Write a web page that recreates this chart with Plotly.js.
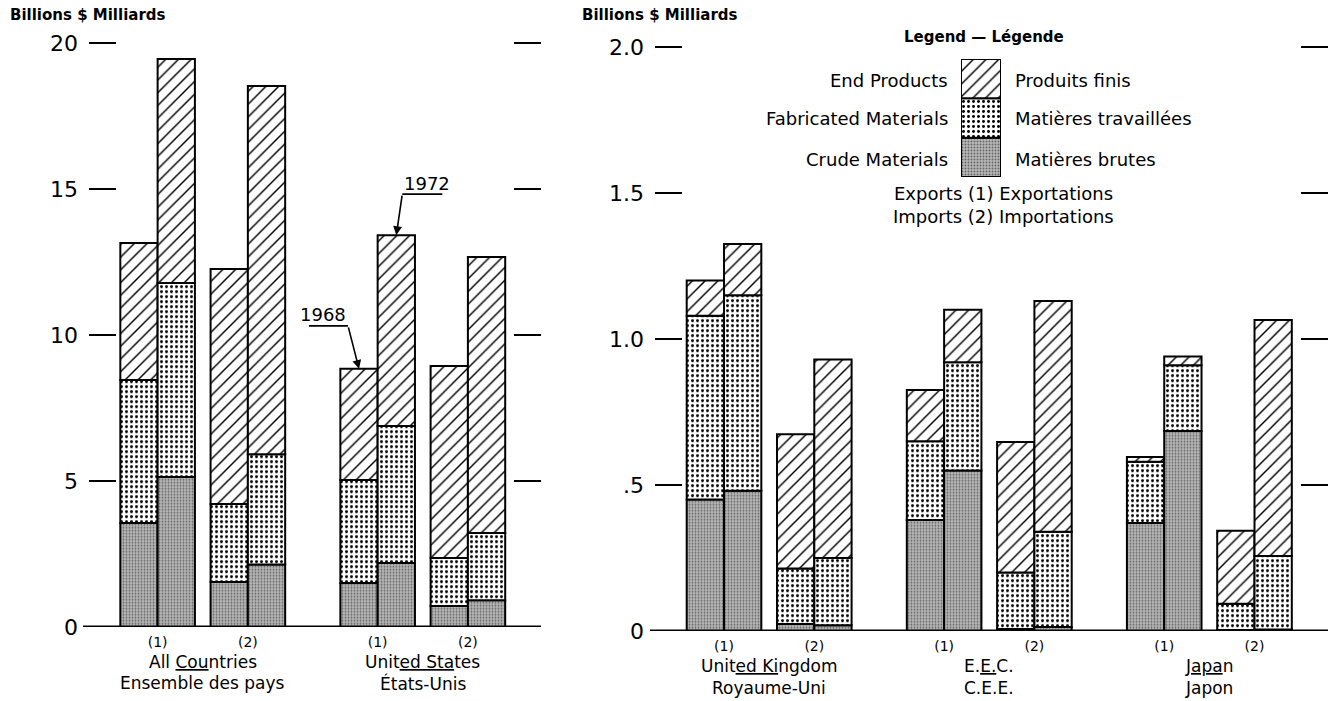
<!DOCTYPE html>
<html><head><meta charset="utf-8">
<script src="https://cdn.plot.ly/plotly-3.0.1.min.js"></script>
<style>html,body{margin:0;padding:0;background:#fff;}#chart{width:1329px;height:701px;}</style>
</head><body><div id="chart"></div>
<script>
// ---------- data ----------
const years = ['1968', '1972'];
const flowLabels = ['(1)', '(2)'];
const categoriesEn = ['Crude Materials', 'Fabricated Materials', 'End Products'];
const categoriesFr = ['Matières brutes', 'Matières travaillées', 'Produits finis'];
const flowsEn = ['Exports', 'Imports'];
const flowsFr = ['Exportations', 'Importations'];
const unitLabel = 'Billions $ Milliards';

const leftCountriesEn = ['All <u>Cou</u>ntries', 'Unit<u>ed Sta</u>tes'];
const leftCountriesFr = ['Ensemble des pays', 'États-Unis'];
const rightCountriesEn = ['Unit<u>ed Ki</u>ngdom', 'E.<u>E.</u>C.', 'J<u>apa</u>n'];
const rightCountriesFr = ['Royaume-Uni', 'C.E.E.', 'Japon'];

const leftTickVals = [0, 5, 10, 15, 20];
const leftTickText = ['0', '5', '10', '15', '20'];
const rightTickVals = [0, 0.5, 1, 1.5, 2];
const rightTickText = ['0', '.5', '1.0', '1.5', '2.0'];

// order: [country1 exports, country1 imports, country2 exports, ...]
const left1968Crude = [3.56, 1.54, 1.51, 0.72];
const left1968Fab   = [4.90, 2.67, 3.52, 1.64];
const left1968End   = [4.69, 8.05, 3.81, 6.58];
const left1972Crude = [5.14, 2.14, 2.19, 0.92];
const left1972Fab   = [6.64, 3.78, 4.69, 2.30];
const left1972End   = [7.67, 12.61, 6.54, 9.45];

const right1968Crude = [0.45, 0.024, 0.38, 0.007, 0.37, 0.003];
const right1968Fab   = [0.63, 0.19, 0.27, 0.193, 0.21, 0.09];
const right1968End   = [0.12, 0.46, 0.175, 0.447, 0.016, 0.25];
const right1972Crude = [0.48, 0.02, 0.55, 0.014, 0.685, 0.005];
const right1972Fab   = [0.67, 0.23, 0.37, 0.326, 0.225, 0.252];
const right1972End   = [0.175, 0.68, 0.18, 0.79, 0.03, 0.808];

// ---------- styling / layout helpers ----------
const FONT = "'DejaVu Sans', 'Liberation Sans', sans-serif";
const W = 1329, H = 701, TOP = 30, BOTTOM = 631, PH = BOTTOM - TOP;
const py = p => (BOTTOM - p) / PH;   // pixel row -> paper y
const px = p => p / W;               // pixel col -> paper x
const COUNTRY_STEP = 5.9, FLOW_STEP = 2.42;
const pos = i => Math.floor(i / 2) * COUNTRY_STEP + (i % 2) * FLOW_STEP;
const countryCenter = c => c * COUNTRY_STEP + FLOW_STEP / 2;

const patterns = [
  {shape: '.', fgcolor: '#666', bgcolor: '#b9b9b9', size: 3, solidity: 0.32},
  {shape: '.', fgcolor: '#000', bgcolor: '#fff', size: 5, solidity: 0.27},
  {shape: '/', fgcolor: '#000', bgcolor: '#fff', size: 9, solidity: 0.16}
];
const outline = {color: '#000', width: 2};

function panelTraces(xa, ya, byYear) {
  const traces = [];
  byYear.forEach((cats, yi) => {
    const n = cats[0].length;
    let base = new Array(n).fill(0);
    cats.forEach((vals, k) => {
      traces.push({
        type: 'bar', xaxis: xa, yaxis: ya,
        x: vals.map((_, i) => pos(i)), y: vals, base: base.slice(),
        offset: yi === 0 ? -1 : 0, width: 1,
        name: categoriesEn[k] + ' ' + years[yi],
        marker: {pattern: patterns[k], line: outline},
        hoverinfo: 'skip'
      });
      base = base.map((b, i) => b + vals[i]);
    });
  });
  return traces;
}

const leftData = [[left1968Crude, left1968Fab, left1968End], [left1972Crude, left1972Fab, left1972End]];
const rightData = [[right1968Crude, right1968Fab, right1968End], [right1972Crude, right1972Fab, right1972End]];

const traces = [
  ...panelTraces('x', 'y', leftData),
  ...panelTraces('x2', 'y2', rightData)
];
// legend key swatches (stacked)
categoriesEn.forEach((c, k) => {
  traces.push({type: 'bar', xaxis: 'x3', yaxis: 'y3', x: [0], y: [1], base: [k], width: 1,
    marker: {pattern: patterns[k], line: outline}, hoverinfo: 'skip', name: c});
});

const flowTickVals = n => Array.from({length: n}, (_, i) => pos(i));
const flowTickText = n => Array.from({length: n}, (_, i) => flowLabels[i % 2]);

const yCommon = {
  ticks: 'inside', ticklen: 27, tickwidth: 2, tickcolor: '#000', mirror: 'ticks',
  showline: false, showgrid: false, zeroline: false, fixedrange: true,
  ticklabelstandoff: 10, tickfont: {family: FONT, size: 22, color: '#000'}
};
const xCommon = {
  ticks: '', showline: false, showgrid: false, zeroline: false, fixedrange: true,
  tickfont: {family: FONT, size: 14, color: '#000'}, ticklabelstandoff: 5
};

const layout = {
  width: W, height: H, margin: {l: 0, r: 0, t: TOP, b: H - BOTTOM},
  paper_bgcolor: '#fff', plot_bgcolor: 'rgba(0,0,0,0)', showlegend: false, barmode: 'overlay',
  font: {family: FONT, color: '#000'},
  xaxis: Object.assign({}, xCommon, {domain: [px(89), px(541)], range: [-1.84, 10.28], anchor: 'y',
    tickvals: flowTickVals(left1968Crude.length), ticktext: flowTickText(left1968Crude.length)}),
  yaxis: Object.assign({}, yCommon, {domain: [py(627), py(43 - 0.3 * 29.2)], range: [0, 20.3], anchor: 'x',
    tickvals: leftTickVals, ticktext: leftTickText}),
  xaxis2: Object.assign({}, xCommon, {domain: [px(655), px(1328)], range: [-1.85, 16.19], anchor: 'y2',
    tickvals: flowTickVals(right1968Crude.length), ticktext: flowTickText(right1968Crude.length)}),
  yaxis2: Object.assign({}, yCommon, {domain: [py(631), py(47 - 0.03 * 292)], range: [0, 2.03], anchor: 'x2',
    tickvals: rightTickVals, ticktext: rightTickText}),
  xaxis3: {domain: [px(961), px(1001)], range: [-0.5, 0.5], visible: false, anchor: 'y3', fixedrange: true},
  yaxis3: {domain: [py(177), py(59)], range: [0, 3], visible: false, anchor: 'x3', fixedrange: true},
  shapes: [],
  annotations: []
};

// zero baselines extending slightly left of the plot
layout.shapes.push({type: 'line', xref: 'x domain', yref: 'y', x0: -6 / 452, x1: 1, y0: 0, y1: 0, line: {color: '#000', width: 3}});
layout.shapes.push({type: 'line', xref: 'x2 domain', yref: 'y2', x0: -5 / 673, x1: 1, y0: 0, y1: 0, line: {color: '#000', width: 3}});

const A = layout.annotations;
// unit labels
A.push({xref: 'paper', yref: 'paper', x: px(8), y: py(15), xanchor: 'left', yanchor: 'middle', showarrow: false,
  text: '<b>' + unitLabel + '</b>', font: {family: FONT, size: 15, color: '#000'}});
A.push({xref: 'paper', yref: 'paper', x: px(580), y: py(15), xanchor: 'left', yanchor: 'middle', showarrow: false,
  text: '<b>' + unitLabel + '</b>', font: {family: FONT, size: 15, color: '#000'}});

// country labels (English line, French line)
function countryLabels(xref, en, fr, yEn, yFr) {
  en.forEach((c, i) => {
    A.push({xref: xref, yref: 'paper', x: countryCenter(i), y: py(yEn), xanchor: 'center', yanchor: 'middle',
      showarrow: false, text: c, font: {family: FONT, size: 17, color: '#000'}});
    A.push({xref: xref, yref: 'paper', x: countryCenter(i), y: py(yFr), xanchor: 'center', yanchor: 'middle',
      showarrow: false, text: fr[i], font: {family: FONT, size: 17, color: '#000'}});
  });
}
countryLabels('x', leftCountriesEn, leftCountriesFr, 662, 683);
countryLabels('x2', rightCountriesEn, rightCountriesFr, 666, 688);

// legend texts
A.push({xref: 'paper', yref: 'paper', x: px(984), y: py(37), xanchor: 'center', yanchor: 'middle', showarrow: false,
  text: '<b>Legend — Légende</b>', font: {family: FONT, size: 15, color: '#000'}});
const legendRows = [159, 119, 80];
categoriesEn.forEach((c, k) => {
  A.push({xref: 'paper', yref: 'paper', x: px(950), y: py(legendRows[k]), xanchor: 'right', yanchor: 'middle',
    showarrow: false, text: c, font: {family: FONT, size: 18, color: '#000'}});
  A.push({xref: 'paper', yref: 'paper', x: px(1013), y: py(legendRows[k]), xanchor: 'left', yanchor: 'middle',
    showarrow: false, text: categoriesFr[k], font: {family: FONT, size: 18, color: '#000'}});
});
[193, 217].forEach((r, i) => A.push({xref: 'paper', yref: 'paper', x: px(1003), y: py(r), xanchor: 'center', yanchor: 'middle',
  showarrow: false, text: flowsEn[i] + '\u00a0' + flowLabels[i] + '\u00a0' + flowsFr[i], font: {family: FONT, size: 18, color: '#000'}}));

// year call-outs pointing at the US exports bars
const usIdx = 2;
const tot = (cats, i) => cats.reduce((s, a) => s + a[i], 0);
const callouts = [
  {year: years[0], x: pos(usIdx) - 0.5, y: tot(leftData[0], usIdx), ax: -11, ay: -43, tx: -36, ty: 54, u0: -50, u1: -11},
  {year: years[1], x: pos(usIdx) + 0.5, y: tot(leftData[1], usIdx), ax: 6, ay: -41, tx: 31, ty: 52, u0: 6, u1: 46}
];
callouts.forEach(c => {
  A.push({xref: 'x', yref: 'y', x: c.x, y: c.y, text: '', showarrow: true, ax: c.ax, ay: c.ay,
    arrowhead: 2, arrowsize: 1.1, arrowwidth: 1.6, arrowcolor: '#000', standoff: 0});
  A.push({xref: 'x', yref: 'y', x: c.x, y: c.y, text: c.year, showarrow: false, xshift: c.tx, yshift: c.ty,
    xanchor: 'center', font: {family: FONT, size: 18, color: '#000'}});
  layout.shapes.push({type: 'line', xref: 'x', yref: 'y', xsizemode: 'pixel', ysizemode: 'pixel',
    xanchor: c.x, yanchor: c.y, x0: c.u0, x1: c.u1, y0: -c.ay, y1: -c.ay, line: {color: '#000', width: 1.6}});
});

Plotly.newPlot('chart', traces, layout, {staticPlot: true, displayModeBar: false});
</script></body></html>
